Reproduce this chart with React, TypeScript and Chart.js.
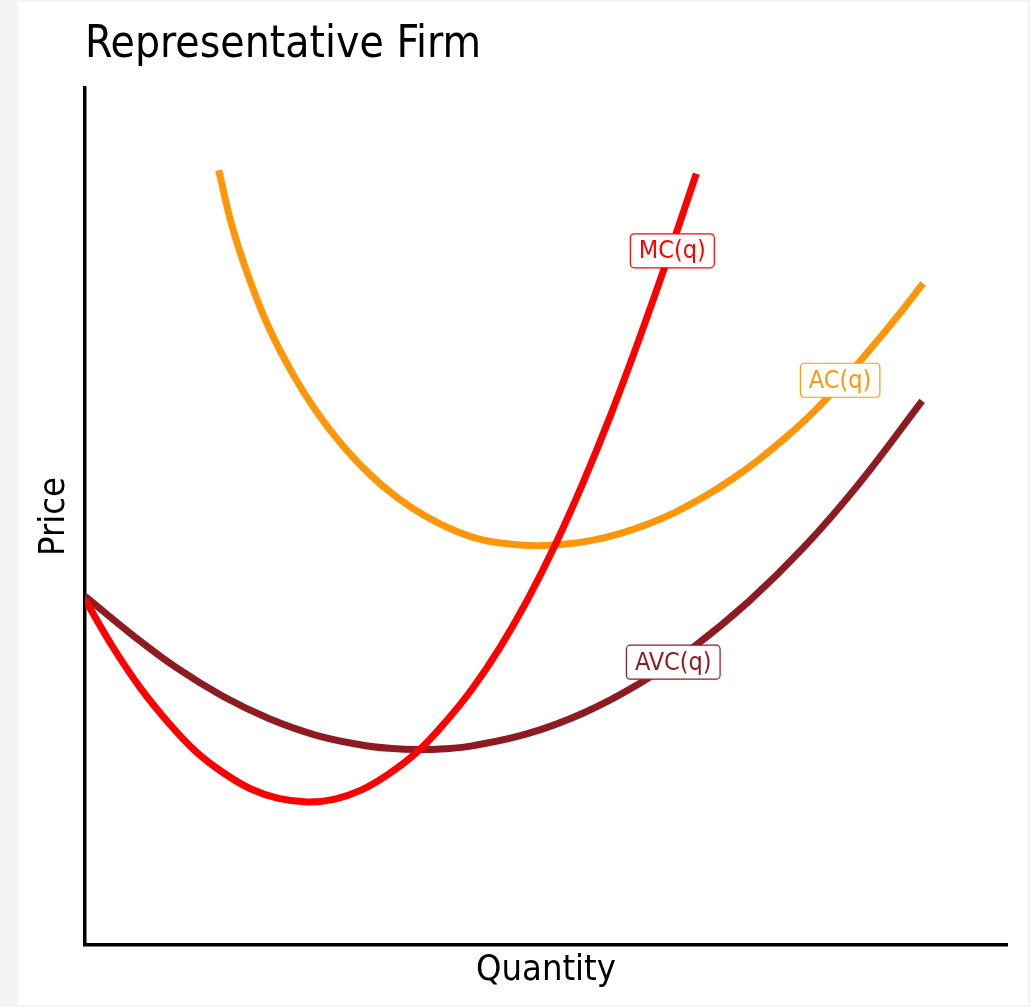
import React, { useEffect, useRef } from "react";
import { Chart, registerables } from "chart.js";

Chart.register(...registerables);

// ---- text ----
const TITLE = "Representative Firm";
const X_TITLE = "Quantity";
const Y_TITLE = "Price";

// ---- data (hand-smoothed) ----
const mcQ = [0, 0.3, 0.6, 0.9, 1.2, 1.5, 1.8, 2.1, 2.41, 2.7, 3.0, 3.3, 3.6, 3.9, 4.2, 4.5, 4.8, 5.1, 5.4, 5.7, 6.0, 6.3, 6.63];
const mcP = [4.03, 3.48, 3.0, 2.6, 2.26, 2.01, 1.82, 1.71, 1.67, 1.7, 1.81, 2.0, 2.25, 2.59, 2.99, 3.47, 4.03, 4.67, 5.39, 6.18, 7.04, 7.95, 9.0];

const avcQ = [0, 0.5, 1.0, 1.5, 2.0, 2.5, 3.0, 3.3, 3.63, 3.9, 4.2, 4.8, 5.4, 6.0, 6.6, 7.2, 7.8, 8.4, 9.08];
const avcP = [4.07, 3.63, 3.23, 2.9, 2.64, 2.45, 2.334, 2.295, 2.28, 2.29, 2.324, 2.466, 2.705, 3.043, 3.478, 4.01, 4.645, 5.39, 6.35];

const acQ = [1.45, 1.6, 1.8, 2.0, 2.25, 2.5, 2.8, 3.1, 3.4, 3.7, 4.0, 4.3, 4.6, 4.9, 5.2, 5.5, 5.8, 6.1, 6.4, 6.7, 7.0, 7.3, 7.6, 7.9, 8.2, 8.5, 8.8, 9.09];
const acP = [9.04, 8.37, 7.72, 7.19, 6.67, 6.24, 5.82, 5.48, 5.21, 5.0, 4.84, 4.73, 4.68, 4.66, 4.676, 4.722, 4.8, 4.909, 5.049, 5.221, 5.423, 5.657, 5.922, 6.218, 6.56, 6.93, 7.32, 7.72];

const curveNames = ["MC(q)", "AC(q)", "AVC(q)"];
const labelQ = [6.37, 8.19, 6.38];
const labelP = [8.1, 6.59, 3.3];

// ---- styles ----
const FONT = "'Liberation Sans Narrow', 'DejaVu Sans Condensed', 'Arial Narrow', sans-serif";
const COLORS = ["#ff0000", "#ff960a", "#8e1b22"];

const toPoints = (xs: number[], ys: number[]) => xs.map((x, i) => ({ x, y: ys[i] }));

const overlayPlugin = {
  id: "overlay",
  afterDatasetsDraw(chart: any) {
    const { ctx, scales } = chart;
    const xs = scales.x;
    const ys = scales.y;
    ctx.save();
    ctx.font = `25px ${FONT}`;
    ctx.textAlign = "center";
    ctx.textBaseline = "middle";
    curveNames.forEach((name, i) => {
      const cx = xs.getPixelForValue(labelQ[i]);
      const cy = ys.getPixelForValue(labelP[i]);
      const w = ctx.measureText(name).width + 17;
      const h = 34;
      ctx.beginPath();
      ctx.roundRect(cx - w / 2, cy - h / 2, w, h, 4);
      ctx.fillStyle = "#ffffff";
      ctx.fill();
      ctx.lineWidth = 1.2;
      ctx.strokeStyle = COLORS[i];
      ctx.stroke();
      ctx.fillStyle = COLORS[i];
      ctx.fillText(name, cx, cy + 1);
    });
    ctx.restore();
  },
  afterDraw(chart: any) {
    const { ctx, chartArea } = chart;
    ctx.save();
    ctx.font = `44px ${FONT}`;
    ctx.fillStyle = "#000000";
    ctx.textAlign = "left";
    ctx.textBaseline = "alphabetic";
    ctx.fillText(TITLE, chartArea.left, 55);
    ctx.restore();
  },
};

export default function App() {
  const ref = useRef<HTMLCanvasElement | null>(null);

  useEffect(() => {
    document.body.style.margin = "0";
    document.body.style.background = "#f4f4f4";
    const canvas = ref.current;
    if (!canvas) return;
    const datasets = [
      { label: curveNames[0], data: toPoints(mcQ, mcP), borderColor: COLORS[0] },
      { label: curveNames[1], data: toPoints(acQ, acP), borderColor: COLORS[1] },
      { label: curveNames[2], data: toPoints(avcQ, avcP), borderColor: COLORS[2] },
    ].map((d) => ({
      ...d,
      borderWidth: 7,
      pointRadius: 0,
      fill: false,
      tension: 0.4,
      borderCapStyle: "butt" as const,
      borderJoinStyle: "round" as const,
    }));

    const axisCommon = (text: string, pad: any) => ({
      type: "linear" as const,
      min: 0,
      max: 10,
      grid: { display: false, drawTicks: false },
      ticks: { display: false },
      border: { display: true, color: "#000000", width: 3.5 },
      title: {
        display: true,
        text,
        color: "#000000",
        font: { family: FONT, size: 36 },
        padding: pad,
      },
    });

    const chart = new Chart(canvas, {
      type: "line",
      data: { datasets },
      options: {
        animation: false,
        responsive: false,
        devicePixelRatio: 1,
        layout: { padding: { left: 10.8, top: 86, right: 21, bottom: 8.8 } },
        plugins: {
          legend: { display: false },
          tooltip: { enabled: false },
          title: { display: false },
        },
        scales: {
          x: axisCommon(X_TITLE, { top: 4, bottom: 4 }),
          y: axisCommon(Y_TITLE, { top: 4, bottom: 9 }),
        },
      },
      plugins: [overlayPlugin],
    });
    return () => chart.destroy();
  }, []);

  return (
    <div style={{ position: "relative", width: 1030, height: 1007, background: "#f4f4f4" }}>
      <div style={{ position: "absolute", left: 18, top: 2, width: 1010, height: 1003, background: "#ffffff" }}>
        <canvas ref={ref} width={1010} height={1003} style={{ display: "block", width: 1010, height: 1003 }} />
      </div>
    </div>
  );
}
